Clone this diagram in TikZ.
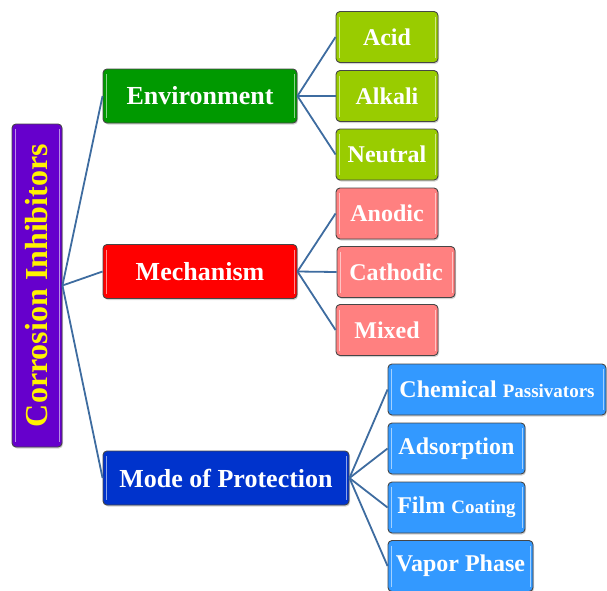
\documentclass[tikz,border=0pt]{standalone}
\usepackage{fontspec}
\setmainfont{Liberation Serif}
\usepackage{tikz}
\usetikzlibrary{positioning, calc, shadows}
\definecolor{rootpurple}{RGB}{102, 0, 204}
\definecolor{envgreen}{RGB}{0, 153, 0}
\definecolor{mechred}{RGB}{255, 0, 0}
\definecolor{modeblue}{RGB}{0, 51, 204}
\definecolor{leaflime}{RGB}{153, 204, 0}
\definecolor{leafsalmon}{RGB}{255, 128, 128}
\definecolor{leafsky}{RGB}{51, 153, 255}
\definecolor{linkblue}{RGB}{62, 108, 160}
\definecolor{boxedge}{RGB}{70, 70, 70}

\tikzset{
    glossbox/.style={draw=boxedge, line width=0.9pt, rounded corners=4pt,
        font=\bfseries, align=center, inner sep=0pt,
        drop shadow={shadow xshift=1pt, shadow yshift=-1.5pt, opacity=0.35},
        path picture={
            \draw[white, opacity=0.55, line width=1pt]
                ([xshift=3pt, yshift=-5pt]path picture bounding box.north west) --
                ([xshift=3pt, yshift=5pt]path picture bounding box.south west);
            \draw[white, opacity=0.55, line width=1pt]
                ([xshift=-3pt, yshift=-5pt]path picture bounding box.north east) --
                ([xshift=-3pt, yshift=5pt]path picture bounding box.south east);
        }},
    rootbox/.style={glossbox, fill=rootpurple, text=yellow,
        minimum width=50pt, minimum height=323pt},
    topicbox/.style={glossbox, text=white, minimum height=54pt,
        font=\bfseries\fontsize{26}{30}\selectfont},
    leafbox/.style={glossbox, text=white, minimum height=51pt,
        font=\bfseries\fontsize{24}{28}\selectfont},
    link/.style={linkblue, line width=1.8pt}
}

\begin{document}
\begin{tikzpicture}[x=1pt, y=-1pt]
    \useasboundingbox (0,0) rectangle (607,590);

    % ROOT
    \node[rootbox] (root) at (37, 285.5)
        {\rotatebox{90}{\fontsize{32}{36}\selectfont Corrosion Inhibitors}};

    % MIDDLE LEVEL
    \node[topicbox, fill=envgreen, minimum width=194pt] (env) at (200, 96) {Environment};
    \node[topicbox, fill=mechred, minimum width=194pt] (mech) at (200, 271.5) {Mechanism};
    \node[topicbox, fill=modeblue, minimum width=246pt] (mode) at (226, 478) {Mode of Protection};

    % LEAVES: Environment
    \node[leafbox, fill=leaflime, minimum width=102pt] (acid) at (387, 37) {Acid};
    \node[leafbox, fill=leaflime, minimum width=102pt] (alkali) at (387, 96) {Alkali};
    \node[leafbox, fill=leaflime, minimum width=102pt] (neutral) at (387, 154.5) {Neutral};

    % LEAVES: Mechanism
    \node[leafbox, fill=leafsalmon, minimum width=102pt] (anodic) at (387, 213.5) {Anodic};
    \node[leafbox, fill=leafsalmon, minimum width=118pt] (cathodic) at (396, 272) {Cathodic};
    \node[leafbox, fill=leafsalmon, minimum width=102pt] (mixed) at (387, 330) {Mixed};

    % LEAVES: Mode of Protection
    \node[leafbox, fill=leafsky, minimum width=218pt] (chem) at (497, 389.5)
        {Chemical {\fontsize{19}{22}\selectfont Passivators}};
    \node[leafbox, fill=leafsky, minimum width=137pt] (adsorp) at (456.5, 448.5) {Adsorption};
    \node[leafbox, fill=leafsky, minimum width=137pt] (film) at (456.5, 507.5)
        {Film {\fontsize{19}{22}\selectfont Coating}};
    \node[leafbox, fill=leafsky, minimum width=145pt] (vapor) at (460.5, 566) {Vapor Phase};

    % CONNECTORS
    \foreach \t in {env, mech, mode} {
        \draw[link] (root.east) -- (\t.west);
    }
    \foreach \l in {acid, alkali, neutral} {
        \draw[link] (env.east) -- (\l.west);
    }
    \foreach \l in {anodic, cathodic, mixed} {
        \draw[link] (mech.east) -- (\l.west);
    }
    \foreach \l in {chem, adsorp, film, vapor} {
        \draw[link] (mode.east) -- (\l.west);
    }
\end{tikzpicture}
\end{document}
